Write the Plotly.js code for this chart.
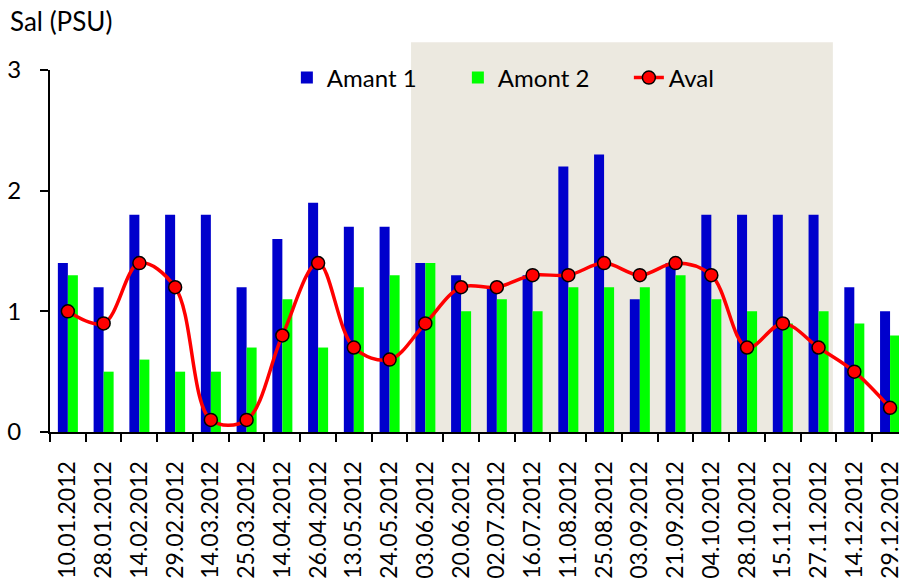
<!DOCTYPE html>
<html><head><meta charset="utf-8">
<script src="https://cdn.plot.ly/plotly-3.0.1.min.js"></script>
<style>html,body{margin:0;padding:0;background:#fff}#chart{width:899px;height:584px}</style>
</head><body><div id="chart"></div>
<script>
const dates = ['10.01.2012','28.01.2012','14.02.2012','29.02.2012','14.03.2012','25.03.2012','14.04.2012','26.04.2012','13.05.2012','24.05.2012','03.06.2012','20.06.2012','02.07.2012','16.07.2012','11.08.2012','25.08.2012','03.09.2012','21.09.2012','04.10.2012','28.10.2012','15.11.2012','27.11.2012','14.12.2012','29.12.2012'];
const amant1 = [1.4,1.2,1.8,1.8,1.8,1.2,1.6,1.9,1.7,1.7,1.4,1.3,1.2,1.3,2.2,2.3,1.1,1.4,1.8,1.8,1.8,1.8,1.2,1.0];
const amont2 = [1.3,0.5,0.6,0.5,0.5,0.7,1.1,0.7,1.2,1.3,1.4,1.0,1.1,1.0,1.2,1.2,1.2,1.3,1.1,1.0,0.9,1.0,0.9,0.8];
const aval   = [1.0,0.9,1.4,1.2,0.1,0.1,0.8,1.4,0.7,0.6,0.9,1.2,1.2,1.3,1.3,1.4,1.3,1.4,1.3,0.7,0.9,0.7,0.5,0.2];
const shadeStart = '03.06.2012', shadeEnd = '27.11.2012';
const yTicks = [0,1,2,3];

const FONT = 'Lato, "Open Sans", sans-serif';

const traces = [
  {type:'bar', name:'Amant 1', x:dates, y:amant1, marker:{color:'#0000CC'}},
  {type:'bar', name:'Amont 2', x:dates, y:amont2, marker:{color:'#00FF00'}},
  {type:'scatter', mode:'lines+markers', name:'Aval', x:dates, y:aval,
   line:{color:'#FF0000', width:3.5, shape:'spline', smoothing:1},
   marker:{color:'#FF0000', size:13, line:{color:'#000', width:1.5}}, cliponaxis:false}
];

const layout = {
  width:899, height:584,
  margin:{l:50, r:0, t:70, b:152},
  paper_bgcolor:'#fff', plot_bgcolor:'rgba(0,0,0,0)',
  font:{family:FONT, size:24, color:'#000'},
  title:{text:'Sal (PSU)', x:10/899, xanchor:'left', xref:'container', y:1-22/584, yanchor:'middle', yref:'container', font:{family:FONT, size:26, color:'#000'}},
  barmode:'group', bargap:0.44, bargroupgap:0,
  showlegend:true,
  legend:{orientation:'h', x:0.279, xanchor:'left', y:0.978, yanchor:'middle', bgcolor:'rgba(0,0,0,0)', entrywidth:126, font:{family:FONT, size:24}},
  xaxis:{type:'category', range:[-0.5, 23.25], showline:true, linecolor:'#000', linewidth:2,
         ticks:'outside', ticklen:8, tickwidth:2, tickcolor:'#000', tickson:'boundaries',
         tickangle:-90, ticklabelstandoff:18, showgrid:false, zeroline:false, automargin:false,
         tickfont:{family:FONT, size:23}},
  yaxis:{range:[0,3], tickvals:yTicks, showline:true, linecolor:'#000', linewidth:2,
         ticks:'outside', ticklen:8, tickwidth:2, tickcolor:'#000', ticklabelstandoff:14,
         showgrid:false, zeroline:false, automargin:false, tickfont:{family:FONT, size:24}},
  shapes:[{type:'rect', layer:'below', xref:'x', yref:'paper',
           x0:dates.indexOf(shadeStart)-0.4, x1:dates.indexOf(shadeEnd)+0.4, y0:0, y1:1.077,
           fillcolor:'#ECE9E0', line:{width:0}}]
};

Plotly.newPlot('chart', traces, layout, {displayModeBar:false, staticPlot:true});
</script></body></html>
